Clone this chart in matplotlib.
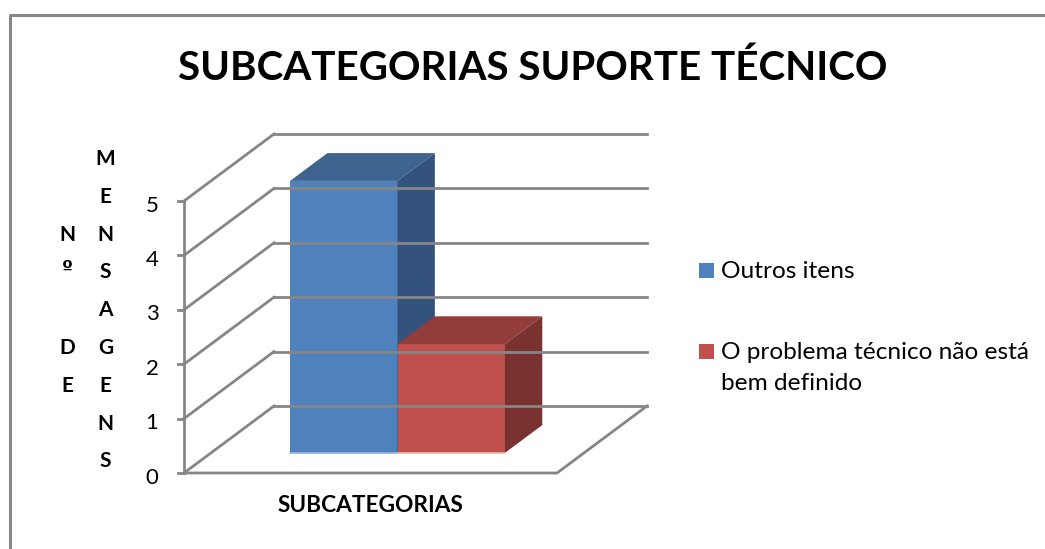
import textwrap
import matplotlib
matplotlib.use("Agg")
import matplotlib.pyplot as plt
from matplotlib.patches import Polygon, Rectangle
from matplotlib.lines import Line2D

# ---------------- data ----------------
title = "SUBCATEGORIAS SUPORTE TÉCNICO"
category = "SUBCATEGORIAS"
ylabel = "Nº DE MENSAGENS"
series_names = ["Outros itens", "O problema técnico não está bem definido"]
values = [5, 2]
y_ticks = [0, 1, 2, 3, 4, 5]

front_colors = ["#4F81BD", "#C0504D"]
top_colors = ["#3E638F", "#933D3A"]
side_colors = ["#33527D", "#7A3230"]
base_colors = ["#95B3D7", "#E6B9B8"]
grid_color = "#868686"
FONT = ["Lato", "DejaVu Sans"]

# ---------------- geometry (pixels) ----------------
W, H = 1045, 549
X0, FW = 184.0, 373.0        # front-left corner x, floor width
Y0, UNIT = 473.0, 54.4       # value-0 y, pixels per unit
DEPTH_PX = (90.0, 67.0)      # depth offset of the walls
DX, DY = DEPTH_PX[0] / FW, DEPTH_PX[1] / UNIT
BAR_W = 0.288
D0, D1 = 0.30, 0.715

fig = plt.figure(figsize=(W / 100, H / 100), dpi=100)
ax = fig.add_axes([0, 0, 1, 1])
ax.set_xlim(-0.5 - X0 / FW, -0.5 + (W - X0) / FW)
ax.set_ylim(-(H - Y0) / UNIT, Y0 / UNIT)
ax.axis("off")


def fx(x):
    return x / W


def fy(y):
    return 1 - y / H


lw = 2.0
# walls / gridlines
for v in y_ticks:
    ax.add_line(Line2D([-0.5 + DX, 0.5 + DX], [v + DY, v + DY], color=grid_color, lw=lw))
    ax.add_line(Line2D([-0.5, -0.5 + DX], [v, v + DY], color=grid_color, lw=lw))
    ax.add_line(Line2D([-0.5 - 6 / FW, -0.5], [v, v], color=grid_color, lw=lw))
    ax.text(-0.5 - 32 / FW, v - 10.5 / UNIT, str(v), ha="center", va="baseline",
            fontsize=16, family=FONT, color="#000000")
# floor & front axis
ax.add_line(Line2D([-0.5, 0.5, 0.5 + DX], [0, 0, DY], color=grid_color, lw=lw,
                   solid_joinstyle="miter"))
ax.add_line(Line2D([-0.5, -0.5], [0, max(y_ticks)], color=grid_color, lw=lw))

# bars
for i, (v, fc, tc, sc, bc) in enumerate(zip(values, front_colors, top_colors, side_colors, base_colors)):
    x0 = -BAR_W * len(values) / 2 + i * BAR_W
    x1 = x0 + BAR_W
    a0x, a0y = D0 * DX, D0 * DY
    a1x, a1y = D1 * DX, D1 * DY
    ax.add_patch(Polygon([(x0 + a0x, a0y), (x1 + a0x, a0y), (x1 + a0x, v + a0y), (x0 + a0x, v + a0y)],
                         closed=True, facecolor=fc, edgecolor="none"))
    ax.add_patch(Polygon([(x0 + a0x, v + a0y), (x1 + a0x, v + a0y), (x1 + a1x, v + a1y), (x0 + a1x, v + a1y)],
                         closed=True, facecolor=tc, edgecolor="none"))
    ax.add_patch(Polygon([(x1 + a0x, a0y), (x1 + a1x, a1y), (x1 + a1x, v + a1y), (x1 + a0x, v + a0y)],
                         closed=True, facecolor=sc, edgecolor="none"))
    ax.add_line(Line2D([x0 + a0x, x1 + a0x], [a0y, a0y], color=bc, lw=1.2))

# chart border
fig.add_artist(Line2D([fx(9.5), fx(9.5), fx(1045)], [fy(549), fy(14.5), fy(14.5)],
                      color="#878787", lw=2.2, transform=fig.transFigure))

renderer = fig.canvas.get_renderer()


def fit(t, target_w):
    for _ in range(2):
        w = t.get_window_extent(renderer).width
        t.set_fontsize(t.get_fontsize() * target_w / w)


# title
t = fig.text(fx(533), fy(80), title, ha="center", va="baseline", fontsize=30,
             fontweight="bold", family=FONT, color="#000000")
fit(t, 710)

# x label
t = fig.text(fx(370), fy(512), category, ha="center", va="baseline", fontsize=12,
             fontweight="bold", family=FONT, color="#000000")
fit(t, 186)

# y label: stacked letters in two columns
cols = ylabel.rsplit(" ", 1)
n_rows = max(len(c) for c in cols)
col_x = [67, 105.5]
for cx, word in zip(col_x, cols):
    off = (n_rows - len(word)) / 2
    for k, ch in enumerate(word):
        yc = 157.5 + (off + k) * 37.8
        if not ch.strip():
            continue
        if ch == "º":
            fig.text(fx(cx), fy(yc + 3), ch, ha="center", va="baseline", fontsize=14,
                     fontweight="bold", family=["DejaVu Sans"], color="#000000")
        else:
            fig.text(fx(cx), fy(yc + 7.5), ch, ha="center", va="baseline", fontsize=15,
                     fontweight="bold", family=FONT, color="#000000")

# legend
leg_y = [278, 359]
leg_texts = []
for name, fc, by in zip(series_names, front_colors, leg_y):
    fig.add_artist(Rectangle((fx(699), fy(by)), 15 / W, 15 / H, facecolor=fc,
                             edgecolor="none", transform=fig.transFigure))
    for j, line in enumerate(textwrap.fill(name, 27).split("\n")):
        tt = fig.text(fx(721), fy(by + j * 31), line, ha="left", va="baseline",
                      fontsize=15, family=FONT, color="#000000")
        leg_texts.append(tt)
# scale legend font so the longest line matches the reference width
longest = max(leg_texts, key=lambda tt: tt.get_window_extent(renderer).width)
w = longest.get_window_extent(renderer).width
scale = 309 / w
for tt in leg_texts:
    tt.set_fontsize(tt.get_fontsize() * scale)

fig.savefig("out.png", dpi=100, facecolor="white")
